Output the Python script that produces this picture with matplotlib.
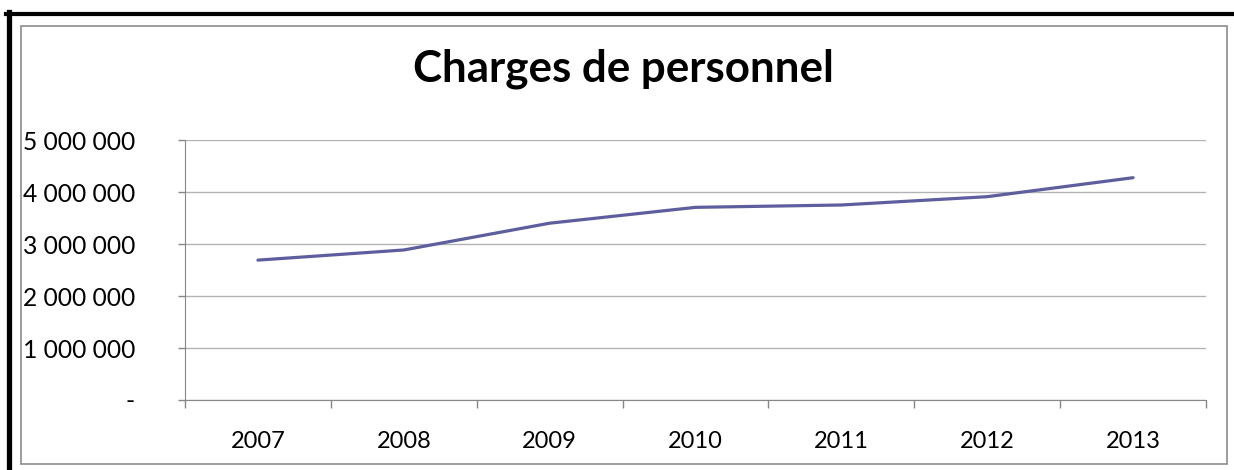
import matplotlib
matplotlib.use('Agg')
import matplotlib.pyplot as plt
from matplotlib.lines import Line2D
from matplotlib.patches import Rectangle
from matplotlib.ticker import FuncFormatter

plt.rcParams['font.family'] = ['Lato', 'DejaVu Sans']

years = ['2007', '2008', '2009', '2010', '2011', '2012', '2013']
charges = [2690000, 2885000, 3400000, 3705000, 3750000, 3910000, 4275000]
y_ticks = [0, 1000000, 2000000, 3000000, 4000000, 5000000]

W, H = 1234, 470
fig = plt.figure(figsize=(W / 100, H / 100), dpi=100)
ax = fig.add_axes([185 / W, 1 - 400 / H, (1206 - 185) / W, (400 - 140) / H])

x = list(range(len(years)))
ax.plot(x, charges, color='#5d5e9e', linewidth=2.3, solid_capstyle='round')

ax.set_xlim(-0.5, len(years) - 0.5)
ax.set_ylim(0, 5000000)
ax.set_yticks(y_ticks)


def fmt(v, pos):
    if v == 0:
        return '-'
    return '{:,.0f}'.format(v).replace(',', ' ')


ax.yaxis.set_major_formatter(FuncFormatter(fmt))
ax.set_xticks(x)
ax.set_xticklabels(years)
ax.set_xticks([i - 0.5 for i in range(len(years) + 1)], minor=True)
ax.tick_params(axis='x', which='major', length=0, pad=22, labelsize=17)
ax.tick_params(axis='x', which='minor', length=6, color='#868686', width=1)
ax.tick_params(axis='y', length=5, color='#868686', width=1, labelsize=17.7, pad=31)
for lbl in ax.get_yticklabels():
    lbl.set_horizontalalignment('right')

ax.grid(axis='y', color='#b3b3b3', linewidth=1)
ax.set_axisbelow(True)
for s in ['top', 'right']:
    ax.spines[s].set_visible(False)
ax.spines['left'].set_color('#868686')
ax.spines['bottom'].set_color('#868686')

fig.text(623 / W, 1 - 69 / H, 'Charges de personnel', ha='center', va='center',
         fontsize=31.6, fontweight='bold')

# outer frames
fig.add_artist(Rectangle((21 / W, 1 - 464 / H), (1227 - 21) / W, (464 - 26) / H,
                         transform=fig.transFigure, fill=False, edgecolor='#8c8c8c', linewidth=1.2))
fig.add_artist(Line2D([6 / W, 1.0], [1 - 13.5 / H] * 2, transform=fig.transFigure,
                      color='black', linewidth=3))
fig.add_artist(Line2D([8.5 / W] * 2, [1 - 12 / H, 0], transform=fig.transFigure,
                      color='black', linewidth=3.8))

fig.savefig('out.png', dpi=100)
